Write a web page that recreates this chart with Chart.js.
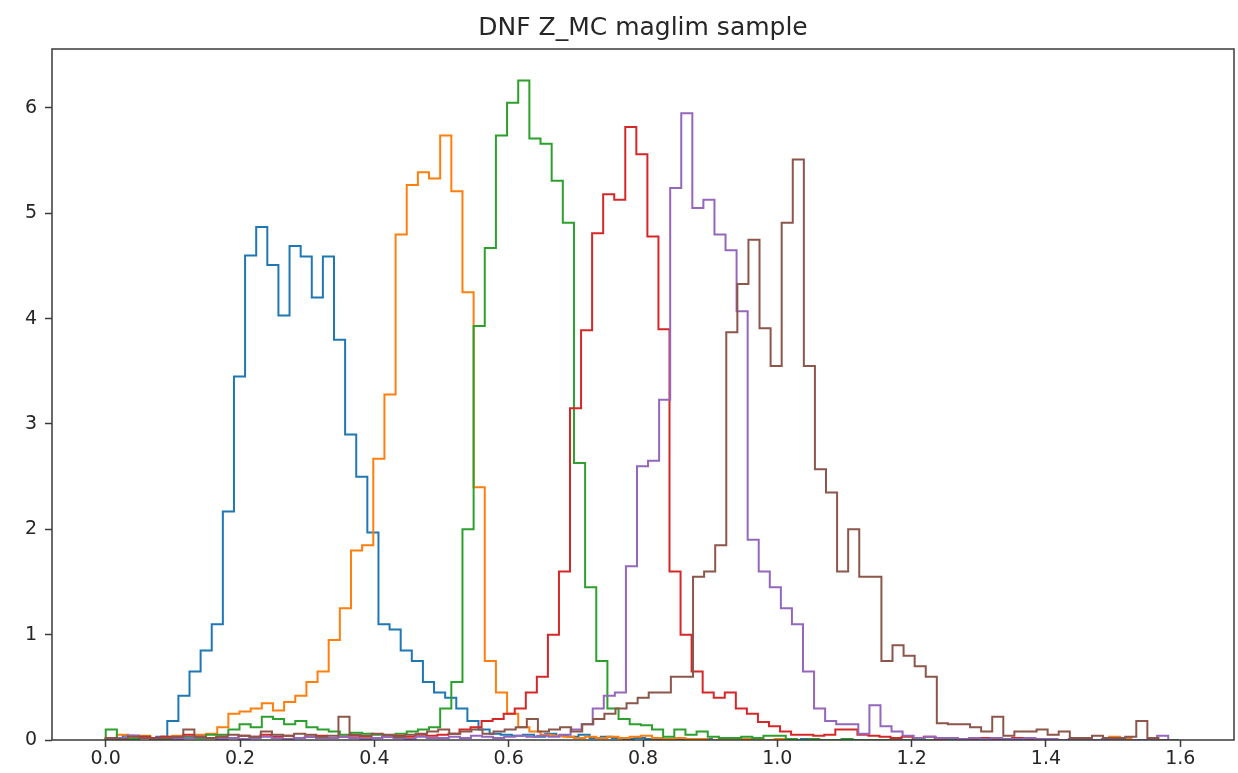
<!DOCTYPE html>
<html>
<head>
<meta charset="utf-8">
<script src="https://cdn.jsdelivr.net/npm/chart.js@4.4.1/dist/chart.umd.min.js"></script>
<style>
  html, body { margin: 0; padding: 0; background: #fff; }
  #wrap { width: 1238px; height: 773px; }
</style>
</head>
<body>
<div id="wrap"><canvas id="zChart" width="1238" height="773"></canvas></div>
<script>
// histogram bin heights (density), 96 bins per sample
const blueZ = [0.02,0.04,0.03,0.02,0.03,0.18,0.42,0.65,0.85,1.1,2.17,3.45,4.6,4.87,4.51,4.03,4.69,4.59,4.2,4.59,3.8,2.9,2.5,1.97,1.1,1.05,0.85,0.75,0.55,0.45,0.4,0.3,0.18,0.1,0.06,0.05,0.04,0.05,0.03,0.06,0.04,0.03,0.05,0.02,0.03,0.02,0.01,0.02,0.01,0,0.01,0,0,0.01,0,0,0,0.01,0,0,0,0,0.01,0,0,0,0,0,0,0,0,0,0,0,0,0,0,0,0,0,0,0,0,0,0,0,0,0,0,0,0,0,0,0,0,0];
const orangeZ = [0.02,0.05,0.03,0.04,0.02,0.03,0.04,0.03,0.05,0.06,0.12,0.25,0.27,0.3,0.35,0.28,0.36,0.42,0.55,0.65,0.95,1.25,1.8,1.85,2.67,3.28,4.8,5.27,5.39,5.33,5.74,5.21,4.25,2.4,0.75,0.45,0.25,0.12,0.08,0.05,0.04,0.03,0.02,0.03,0.02,0.03,0.02,0.03,0.04,0.02,0.01,0.02,0.01,0.01,0,0.01,0,0.01,0,0,0.01,0,0,0,0,0,0,0,0,0,0,0,0,0,0,0,0,0,0,0,0,0,0,0,0,0,0,0,0,0,0.03,0.02,0,0,0,0];
const greenZ = [0.1,0.02,0.01,0.03,0.02,0.01,0.02,0.03,0.02,0.05,0.05,0.1,0.15,0.12,0.22,0.2,0.15,0.18,0.12,0.1,0.08,0.05,0.07,0.06,0.05,0.04,0.06,0.08,0.1,0.12,0.3,0.55,2.0,3.93,4.67,5.74,6.05,6.26,5.71,5.66,5.31,4.91,2.63,1.45,0.75,0.3,0.2,0.15,0.14,0.1,0.03,0.1,0.05,0.08,0.03,0.02,0.02,0.03,0.02,0.04,0.04,0.01,0,0.01,0,0,0.01,0,0,0,0,0,0,0,0,0,0,0,0,0,0,0,0,0,0,0,0,0,0,0,0,0,0,0,0,0];
const redZ = [0.01,0.02,0.04,0.03,0.02,0.03,0.02,0.05,0.03,0.02,0.03,0.02,0.04,0.03,0.05,0.03,0.04,0.02,0.03,0.04,0.02,0.03,0.04,0.03,0.02,0.03,0.04,0.03,0.05,0.04,0.05,0.06,0.1,0.12,0.18,0.2,0.25,0.3,0.45,0.6,1.0,1.6,3.15,3.89,4.81,5.18,5.13,5.82,5.56,4.78,3.9,1.6,1.0,0.65,0.45,0.4,0.45,0.3,0.25,0.17,0.13,0.08,0.05,0.05,0.04,0.05,0.1,0.1,0.05,0.04,0.03,0.02,0.03,0.02,0.03,0.01,0.02,0.01,0.01,0.02,0.01,0.01,0.02,0.01,0,0.01,0,0,0.01,0,0,0,0,0,0,0];
const purpleZ = [0.01,0.02,0.04,0.02,0.01,0.02,0.01,0.02,0.03,0.02,0.01,0.02,0.01,0.02,0.03,0.02,0.01,0.02,0.03,0.02,0.02,0.03,0.02,0.01,0.02,0.03,0.02,0.01,0.03,0.02,0.02,0.03,0.02,0.04,0.03,0.02,0.03,0.04,0.03,0.04,0.03,0.05,0.1,0.15,0.3,0.42,0.45,1.65,2.6,2.65,3.23,5.24,5.95,5.05,5.13,4.8,4.65,4.07,1.9,1.6,1.45,1.25,1.1,0.65,0.3,0.18,0.15,0.15,0.06,0.33,0.13,0.08,0.04,0.02,0.03,0.02,0.02,0.01,0.02,0.01,0.02,0.01,0.01,0.02,0.01,0.01,0,0.01,0,0,0.01,0,0,0,0,0.04];
const brownZ = [0.02,0.01,0.03,0.02,0.01,0.02,0.03,0.1,0.03,0.02,0.03,0.05,0.04,0.03,0.08,0.05,0.04,0.06,0.05,0.03,0.04,0.22,0.05,0.04,0.06,0.05,0.03,0.05,0.06,0.08,0.1,0.06,0.08,0.1,0.06,0.08,0.1,0.12,0.2,0.08,0.1,0.12,0.08,0.15,0.2,0.25,0.3,0.35,0.4,0.45,0.45,0.6,0.6,1.55,1.6,1.85,3.87,4.33,4.75,3.91,3.55,4.91,5.51,3.55,2.57,2.35,1.6,2.0,1.55,1.55,0.75,0.9,0.8,0.7,0.6,0.16,0.15,0.15,0.12,0.08,0.22,0.04,0.08,0.08,0.1,0.05,0.08,0.02,0.02,0.04,0.02,0.02,0.03,0.18,0.02,0];

// each sample was binned over its own redshift range
const seriesNames = ['bin 1', 'bin 2', 'bin 3', 'bin 4', 'bin 5', 'bin 6'];
const binStart = [0.0089, 0, 0, 0, 0, 0];
const binWidth = [0.01655, 0.0166, 0.0166, 0.01646, 0.01648, 0.0165];
const colors = ['#1f77b4', '#ff7f0e', '#2ca02c', '#d62728', '#9467bd', '#8c564b'];

const titleText = 'DNF Z_MC maglim sample';
const xTicks = [0.0, 0.2, 0.4, 0.6, 0.8, 1.0, 1.2, 1.4, 1.6];
const yTicks = [0, 1, 2, 3, 4, 5, 6];

function stepPoints(vals, start, width) {
  const pts = [{ x: start, y: 0 }];
  vals.forEach((v, k) => pts.push({ x: start + k * width, y: v }));
  const end = start + vals.length * width;
  pts.push({ x: end, y: vals[vals.length - 1] });
  pts.push({ x: end, y: 0 });
  return pts;
}

const allZ = [blueZ, orangeZ, greenZ, redZ, purpleZ, brownZ];
const datasets = allZ.map((vals, i) => ({
  label: seriesNames[i],
  data: stepPoints(vals, binStart[i], binWidth[i]),
  borderColor: colors[i],
  borderWidth: 2,
  pointRadius: 0,
  stepped: 'before',
  fill: false,
  order: allZ.length - 1 - i
}));

// axes box on all four sides + title centred over the axes (like matplotlib)
const frame = {
  id: 'frame',
  afterDatasetsDraw(chart) {
    const { ctx, chartArea: a } = chart;
    ctx.save();
    ctx.strokeStyle = '#3a3a3a';
    ctx.lineWidth = 1.5;
    ctx.strokeRect(a.left, a.top, a.right - a.left, a.bottom - a.top);
    ctx.fillStyle = '#262626';
    ctx.font = '25px "DejaVu Sans"';
    ctx.textAlign = 'center';
    ctx.textBaseline = 'middle';
    ctx.fillText(titleText, (a.left + a.right) / 2, 28);
    ctx.restore();
  }
};

const tickFont = { family: 'DejaVu Sans', size: 19 };

new Chart(document.getElementById('zChart').getContext('2d'), {
  type: 'line',
  data: { datasets: datasets },
  options: {
    responsive: false,
    animation: false,
    devicePixelRatio: 1,
    layout: { padding: { left: 0, right: 4, top: 49, bottom: 0 } },
    plugins: {
      legend: { display: false },
      tooltip: { enabled: false },
      title: { display: false }
    },
    scales: {
      x: {
        type: 'linear',
        min: -0.08,
        max: 1.68,
        afterBuildTicks: s => { s.ticks = xTicks.map(v => ({ value: v })); },
        afterFit: s => { s.height = 33; },
        grid: { display: true, drawOnChartArea: false, drawTicks: true, tickLength: 7, color: '#3a3a3a', tickWidth: 1.5 },
        border: { display: false },
        ticks: { color: '#262626', font: tickFont, padding: 1, maxRotation: 0, callback: v => v.toFixed(1) }
      },
      y: {
        min: 0,
        max: 6.56,
        afterBuildTicks: s => { s.ticks = yTicks.map(v => ({ value: v })); },
        afterFit: s => { s.width = 52; },
        grid: { display: true, drawOnChartArea: false, drawTicks: true, tickLength: 7, color: '#3a3a3a', tickWidth: 1.5 },
        border: { display: false },
        ticks: { color: '#262626', font: tickFont, padding: 8, callback: v => String(v) }
      }
    }
  },
  plugins: [frame]
});
</script>
</body>
</html>
